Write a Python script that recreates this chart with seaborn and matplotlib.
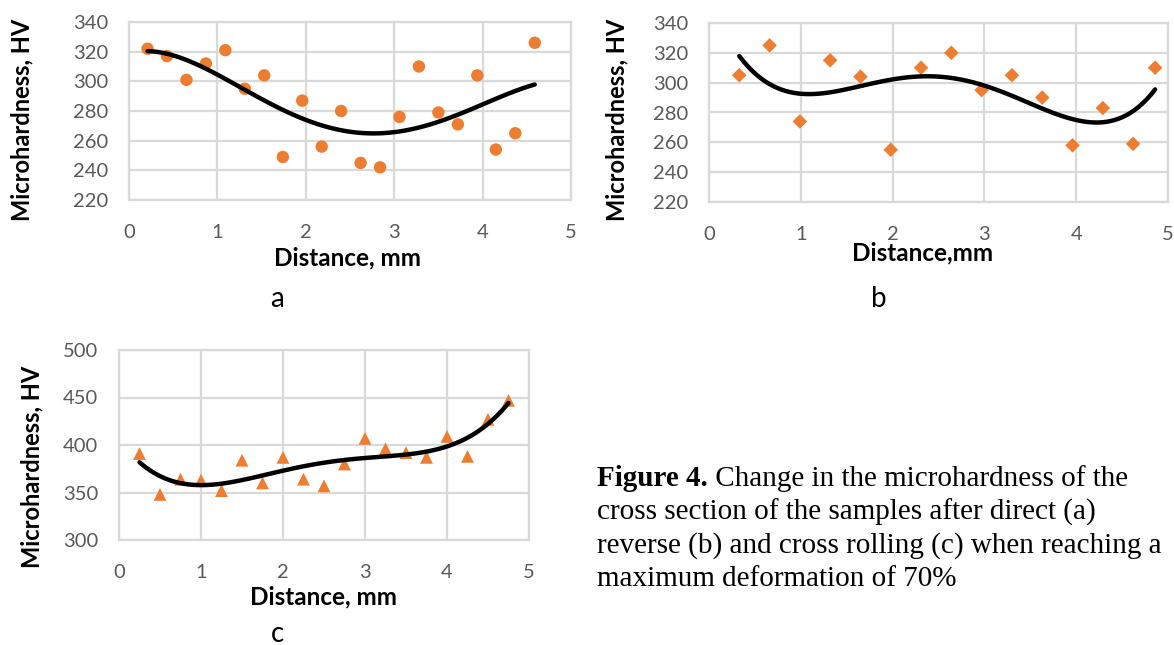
import numpy as np
import pandas as pd
import matplotlib
matplotlib.use("Agg")
import matplotlib.pyplot as plt
import seaborn as sns

# ---------------- data ----------------
a_x = [0.21, 0.43, 0.65, 0.87, 1.09, 1.31, 1.53, 1.74, 1.96, 2.18, 2.40,
       2.62, 2.84, 3.06, 3.28, 3.50, 3.72, 3.94, 4.15, 4.37, 4.59]
a_y = [322, 317, 301, 312, 321, 295, 304, 249, 287, 256, 280,
       245, 242, 276, 310, 279, 271, 304, 254, 265, 326]

b_x = [0.33, 0.66, 0.99, 1.32, 1.65, 1.98, 2.31, 2.64, 2.97, 3.30,
       3.63, 3.96, 4.29, 4.62, 4.86]
b_y = [305, 325, 274, 315, 304, 255, 310, 320, 295, 305,
       290, 258, 283, 259, 310]

c_x = [0.25, 0.50, 0.75, 1.00, 1.25, 1.50, 1.75, 2.00, 2.25, 2.50,
       2.75, 3.00, 3.25, 3.50, 3.75, 4.00, 4.25, 4.50, 4.75]
c_y = [391, 348, 364, 363, 352, 384, 360, 387, 364, 357,
       380, 407, 396, 392, 387, 409, 388, 427, 447]

x_ticks = [0, 1, 2, 3, 4, 5]
ab_yticks = [220, 240, 260, 280, 300, 320, 340]
c_yticks = [300, 350, 400, 450, 500]

ylabel_text = "Microhardness, HV"
xlabel_a = "Distance, mm"
xlabel_b = "Distance,mm"
xlabel_c = "Distance, mm"
caption_bold = "Figure 4."
caption_lines = [" Change in the microhardness of the",
                 "cross section of the samples after direct (a)",
                 "reverse (b) and cross rolling (c) when reaching a",
                 "maximum deformation of 70%"]

# ---------------- style ----------------
sns.set_style("white")
plt.rcParams['font.family'] = ['Lato', 'DejaVu Sans']

ORANGE = '#ED7D31'
GRID = '#D9D9D9'
TICKC = '#595959'

W, H = 1174, 645
fig = plt.figure(figsize=(W / 100, H / 100), dpi=100)


def add_ax(l, t, r, b):
    return fig.add_axes([l / W, 1 - b / H, (r - l) / W, (b - t) / H])


def px(x, y):
    return x / W, 1 - y / H


ax_a = add_ax(129, 22, 571, 200)
ax_b = add_ax(709, 23, 1168, 202)
ax_c = add_ax(119, 350, 529, 540)


def draw(ax, xs, ys, marker, s, order):
    sns.scatterplot(x=xs, y=ys, ax=ax, marker=marker, s=s, color=ORANGE,
                    edgecolor='none', linewidth=0, zorder=3)
    sns.regplot(x=xs, y=ys, order=order, ci=None, scatter=False, ax=ax,
                truncate=True, line_kws=dict(color='black', lw=3.2, zorder=4,
                                              solid_capstyle='round'))


def style(ax, yticks):
    ax.set_xlim(0, 5)
    ax.set_xticks(x_ticks)
    ax.set_ylim(yticks[0], yticks[-1])
    ax.set_yticks(yticks)
    ax.grid(True, color=GRID, lw=1.6)
    ax.set_axisbelow(True)
    for sp in ax.spines.values():
        sp.set_color(GRID)
        sp.set_linewidth(1.6)
    ax.tick_params(length=0, labelsize=14.5, labelcolor=TICKC)
    ax.tick_params(axis='x', pad=17)
    ax.tick_params(axis='y', pad=15)
    ax.set_xlabel('')
    ax.set_ylabel('')


draw(ax_a, a_x, a_y, 'o', 80, 4)
draw(ax_b, b_x, b_y, 'D', 55, 4)
draw(ax_c, c_x, c_y, '^', 85, 4)

style(ax_a, ab_yticks)
style(ax_b, ab_yticks)
style(ax_c, c_yticks)

lab_kw = dict(fontweight='bold', fontsize=17, color='black', ha='center', va='center')
fig.text(*px(22, 120), ylabel_text, rotation=90, **lab_kw)
fig.text(*px(617, 120), ylabel_text, rotation=90, **lab_kw)
fig.text(*px(32, 467), ylabel_text, rotation=90, **lab_kw)
xl_kw = dict(lab_kw, fontsize=17.5)
fig.text(*px(348, 258), xlabel_a, **xl_kw)
fig.text(*px(923, 253), xlabel_b, **xl_kw)
fig.text(*px(323, 597), xlabel_c, **xl_kw)

pl_kw = dict(fontsize=20, color='black', ha='center', va='baseline')
fig.text(*px(277, 307), 'a', **pl_kw)
fig.text(*px(879, 307), 'b', **pl_kw)
fig.text(*px(278, 642), 'c', **pl_kw)

cap_kw = dict(family=['Liberation Serif', 'DejaVu Serif'], fontsize=21,
              color='black', va='baseline', ha='left')
baselines = [486, 519.5, 553, 586.5]
tb = fig.text(*px(597, baselines[0]), caption_bold, fontweight='bold', **cap_kw)
fig.canvas.draw()
bb = tb.get_window_extent(renderer=fig.canvas.get_renderer())
fig.text(bb.x1 / W, 1 - baselines[0] / H, caption_lines[0], **cap_kw)
for yb, line in zip(baselines[1:], caption_lines[1:]):
    fig.text(*px(597, yb), line, **cap_kw)

fig.savefig("out.png", dpi=100)
